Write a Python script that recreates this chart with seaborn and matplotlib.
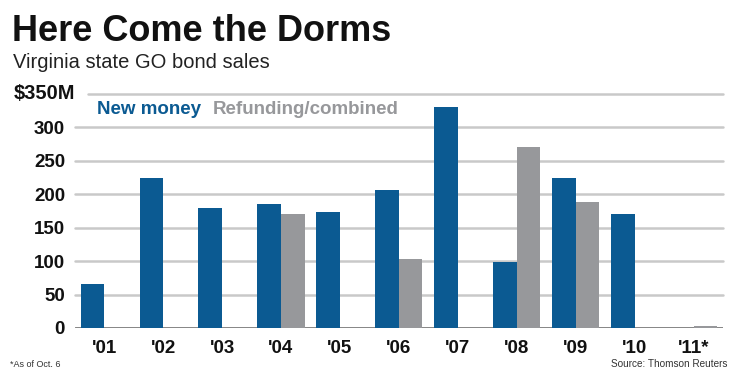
import numpy as np
import pandas as pd
import matplotlib
matplotlib.use("Agg")
import matplotlib.pyplot as plt
import seaborn as sns

# values in $M
years = ["'01", "'02", "'03", "'04", "'05", "'06", "'07", "'08", "'09", "'10", "'11*"]
new_money = [66, 224, 180, 186, 173, 207, 330, 98, 225, 171, 0]
refunding = [0, 0, 0, 170, 0, 103, 0, 271, 189, 0, 3]
yticks = [0, 50, 100, 150, 200, 250, 300, 350]

BLUE = "#0b5a92"
GRAY = "#97989b"

df = pd.DataFrame({
    "year": years * 2,
    "amount": new_money + refunding,
    "type": ["New money"] * len(years) + ["Refunding/combined"] * len(years),
})

sns.set_theme(style="white")
plt.rcParams["font.family"] = ["Liberation Sans", "DejaVu Sans"]

fig = plt.figure(figsize=(7.4, 3.82), dpi=100)
ax = fig.add_axes([0.101, 0.1414, 0.876, 0.6126])

sns.barplot(data=df, x="year", y="amount", hue="type",
            palette=[BLUE, GRAY], width=0.8, saturation=1,
            linewidth=0, edgecolor="none",
            legend=False, ax=ax, zorder=3)

ax.set_xlim(-0.5, len(years) - 0.5)
ax.set_ylim(0, 350)
ax.set_xlabel("")
ax.set_ylabel("")
sns.despine(ax=ax, left=True, bottom=True, top=True, right=True)

# gridlines (top one starts after the "$350M" label)
for v in yticks[1:]:
    start = 0.02 if v == yticks[-1] else 0
    ax.axhline(v, xmin=start, color="#c9c9c9", lw=1.8, zorder=1, clip_on=False)
ax.axhline(0, color="#7a7a7a", lw=2, zorder=2)

ax.set_yticks(yticks[:-1])
ax.set_yticklabels([str(v) for v in yticks[:-1]], fontsize=13.5,
                   fontweight="bold", color="#111111")
ax.tick_params(axis="y", length=0, pad=7)
ax.tick_params(axis="x", length=0, pad=9)
for lbl in ax.get_xticklabels():
    lbl.set_fontsize(13.5)
    lbl.set_fontweight("bold")
    lbl.set_color("#111111")

# titles
fig.text(0.016, 0.892, "Here Come the Dorms", fontsize=26, fontweight="bold",
         color="#111111", ha="left", va="baseline")
fig.text(0.017, 0.822, "Virginia state GO bond sales", fontsize=14.5,
         color="#222222", ha="left", va="baseline")
fig.text(0.019, 0.740, "$350M", fontsize=14.5, fontweight="bold",
         color="#111111", ha="left", va="baseline")

# inline legend
fig.text(0.131, 0.702, "New money", fontsize=13.5, fontweight="bold",
         color=BLUE, ha="left", va="baseline")
fig.text(0.288, 0.702, "Refunding/combined", fontsize=13.5, fontweight="bold",
         color=GRAY, ha="left", va="baseline")

# footnotes
fig.text(0.013, 0.038, "*As of Oct. 6", fontsize=6.5,
         color="#333333", ha="left", va="baseline")
fig.text(0.983, 0.038, "Source: Thomson Reuters", fontsize=7.2,
         color="#333333", ha="right", va="baseline")

fig.savefig("out.png", dpi=100)
